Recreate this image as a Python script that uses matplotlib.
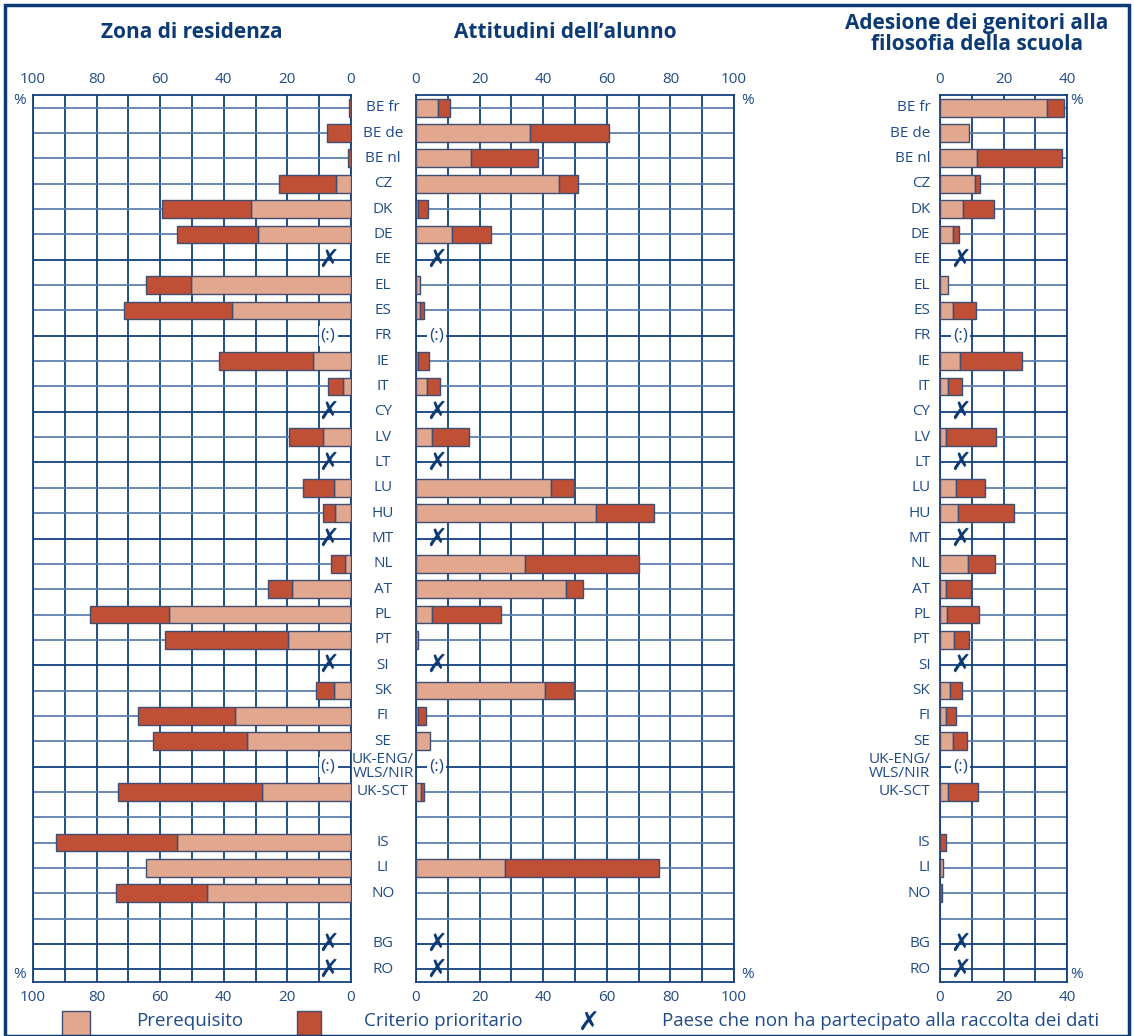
import numpy as np
import matplotlib
matplotlib.use("Agg")
import matplotlib.pyplot as plt
from matplotlib.patches import Rectangle

plt.rcParams['font.family'] = ['Open Sans', 'DejaVu Sans']

nan = np.nan

countries = ['BE fr', 'BE de', 'BE nl', 'CZ', 'DK', 'DE', 'EE', 'EL', 'ES', 'FR',
             'IE', 'IT', 'CY', 'LV', 'LT', 'LU', 'HU', 'MT', 'NL', 'AT',
             'PL', 'PT', 'SI', 'SK', 'FI', 'SE', 'UK-ENG/\nWLS/NIR', 'UK-SCT', '',
             'IS', 'LI', 'NO', '', 'BG', 'RO']
# 'x' = non partecipante, ':' = dati non disponibili
status = ['', '', '', '', '', '', 'x', '', '', ':',
          '', '', 'x', '', 'x', '', '', 'x', '', '',
          '', '', 'x', '', '', '', ':', '', '',
          '', '', '', '', 'x', 'x']

# Zona di residenza
zona_pre = [0, 0, 0, 4.8, 31.5, 29.4, nan, 50.4, 37.4, nan,
            12.1, 2.6, nan, 8.9, nan, 5.2, 5.0, nan, 1.9, 18.7,
            57.2, 19.9, nan, 5.2, 36.6, 32.8, nan, 28.1, nan,
            54.8, 64.6, 45.4, nan, nan, nan]
zona_pri = [0.5, 7.5, 1.0, 17.9, 27.8, 25.3, nan, 14.2, 34.0, nan,
            29.4, 4.5, nan, 10.6, nan, 9.8, 3.7, nan, 4.5, 7.3,
            24.8, 38.7, nan, 5.7, 30.5, 29.4, nan, 45.2, nan,
            38.1, 0, 28.4, nan, nan, nan]

# Attitudini dell'alunno
att_pre = [6.9, 35.8, 17.3, 45.0, 0.7, 11.3, nan, 1.3, 1.3, nan,
           0.7, 3.6, nan, 4.9, nan, 42.4, 56.5, nan, 34.4, 47.3,
           5.0, 0.6, nan, 40.5, 0.6, 4.5, nan, 1.5, nan,
           0, 28.0, 0, nan, nan, nan]
att_pri = [3.7, 24.9, 21.1, 6.0, 3.2, 12.3, nan, 0, 1.1, nan,
           3.3, 4.0, nan, 11.7, nan, 7.2, 18.3, nan, 35.7, 5.2,
           21.6, 0, nan, 9.1, 2.5, 0, nan, 0.9, nan,
           0, 48.4, 0, nan, nan, nan]

# Adesione dei genitori alla filosofia della scuola
gen_pre = [33.8, 9.0, 11.5, 11.0, 7.1, 4.0, nan, 2.5, 4.0, nan,
           6.4, 2.5, nan, 1.8, nan, 4.9, 5.7, nan, 8.8, 2.0,
           2.1, 4.4, nan, 3.3, 1.8, 4.1, nan, 2.5, nan,
           0, 1.1, 0, nan, nan, nan]
gen_pri = [5.2, 0, 26.8, 1.6, 10.0, 1.9, nan, 0, 7.2, nan,
           19.3, 4.3, nan, 15.8, nan, 9.2, 17.7, nan, 8.4, 7.7,
           10.3, 4.6, nan, 3.5, 3.3, 4.4, nan, 9.6, nan,
           1.8, 0, 0.7, nan, nan, nan]

titles = ['Zona di residenza', "Attitudini dell\u2019alunno",
          'Adesione dei genitori alla\nfilosofia della scuola']

c_pre = '#e2a78f'
c_pri = '#c05035'
c_edge = '#3f4d70'
c_grid = '#123f7e'
c_hline = '#5d7fae'
c_text = '#1f4b87'
c_title = '#0b3a75'

W, H = 1134, 1036
fig = plt.figure(figsize=(W / 100, H / 100), dpi=100)

def px_box(x0, x1, y0, y1):
    return [x0 / W, 1 - y1 / H, (x1 - x0) / W, (y1 - y0) / H]

ax_l = fig.add_axes(px_box(33, 351, 95, 982))
ax_m = fig.add_axes(px_box(416, 734, 95, 982))
ax_r = fig.add_axes(px_box(940, 1067, 95, 982))

y = np.arange(len(countries))

def draw_panel(ax, pre, pri, xmax, step, mark_x, invert=False):
    ax.set_ylim(len(countries) - 0.5, -0.5)
    if invert:
        ax.set_xlim(xmax, 0)
    else:
        ax.set_xlim(0, xmax)
    for v in np.arange(0, xmax + 1, step):
        ax.axvline(v, color=c_grid, lw=1.3, zorder=1)
    for i in y:
        ax.axhline(i, color=c_hline if status[i] == '' else c_grid, lw=1.3, zorder=1)
    pre = np.array(pre, dtype=float)
    pri = np.array(pri, dtype=float)
    for i in y:
        p, c = pre[i], pri[i]
        if not np.isnan(p) and p > 0:
            ax.barh(i, p, left=0, height=0.7, color=c_pre, edgecolor=c_edge,
                    linewidth=1, zorder=3)
        if not np.isnan(c) and c > 0:
            ax.barh(i, c, left=0 if np.isnan(p) else p, height=0.7, color=c_pri,
                    edgecolor=c_edge, linewidth=1, zorder=3)
        if status[i] == 'x':
            ax.text(mark_x, i, '\u2717', ha='center', va='center', fontsize=18,
                    fontweight='bold', color=c_title, family=['DejaVu Sans'], zorder=4)
        elif status[i] == ':':
            ax.text(mark_x, i, '(:)', ha='center', va='center', fontsize=12.5,
                    color=c_text, zorder=4,
                    bbox=dict(facecolor='white', edgecolor='none', pad=1.5))
    ticks = np.arange(0, xmax + 1, 20)
    ax.set_xticks(ticks)
    ax.set_xticklabels([str(int(t)) for t in ticks])
    ax.tick_params(axis='x', top=True, labeltop=True, bottom=True, labelbottom=True,
                   length=0, pad=6, labelsize=11, labelcolor=c_text)
    ax.set_yticks([])
    for s in ax.spines.values():
        s.set_color(c_grid)
        s.set_linewidth(1.3)

draw_panel(ax_l, zona_pre, zona_pri, 100, 10, 7.2, invert=True)
draw_panel(ax_m, att_pre, att_pri, 100, 10, 6.5)
draw_panel(ax_r, gen_pre, gen_pri, 40, 10, 6.5)

# country labels
for i, name in enumerate(countries):
    ax_m.text(-0.104, i, name, transform=ax_m.get_yaxis_transform(), ha='center',
              va='center', fontsize=11, color=c_text, linespacing=0.85)
    ax_r.text(-0.075, i, name, transform=ax_r.get_yaxis_transform(), ha='right',
              va='center', fontsize=11, color=c_text, linespacing=0.85)

# titles
fig.text(192 / W, 1 - 33 / H, titles[0], ha='center', va='center', fontsize=15,
         fontweight='bold', color=c_title)
fig.text(565 / W, 1 - 33 / H, titles[1], ha='center', va='center', fontsize=15,
         fontweight='bold', color=c_title)
fig.text(977 / W, 1 - 34 / H, titles[2], ha='center', va='center', fontsize=15,
         fontweight='bold', color=c_title, linespacing=1.05)

# % labels
for xp in (20, 748, 1077):
    for yp in (101, 975):
        fig.text(xp / W, 1 - yp / H, '%', ha='center', va='center', fontsize=11,
                 color=c_text)

# legend
fig.add_artist(Rectangle((62 / W, 1 - 1036 / H), 28 / W, 25 / H, transform=fig.transFigure,
                         facecolor=c_pre, edgecolor=c_edge, lw=1))
fig.text(190 / W, 1 - 1021 / H, 'Prerequisito', ha='center', va='center', fontsize=13.5,
         color=c_text)
fig.add_artist(Rectangle((297 / W, 1 - 1036 / H), 24 / W, 25 / H, transform=fig.transFigure,
                         facecolor=c_pri, edgecolor=c_edge, lw=1))
fig.text(443 / W, 1 - 1021 / H, 'Criterio prioritario', ha='center', va='center', fontsize=13.5,
         color=c_text)
fig.text(589 / W, 1 - 1023 / H, '\u2717', ha='center', va='center', fontsize=19,
         fontweight='bold', color=c_title, family=['DejaVu Sans'])
fig.text(662 / W, 1 - 1021 / H, 'Paese che non ha partecipato alla raccolta dei dati',
         ha='left', va='center', fontsize=13.5, color=c_text)

# outer frame
fig.add_artist(Rectangle((5 / W, 0), 1124 / W, 1 - 5 / H, transform=fig.transFigure,
                         facecolor='none', edgecolor=c_title, lw=2.5))

fig.savefig('out.png', dpi=100)
